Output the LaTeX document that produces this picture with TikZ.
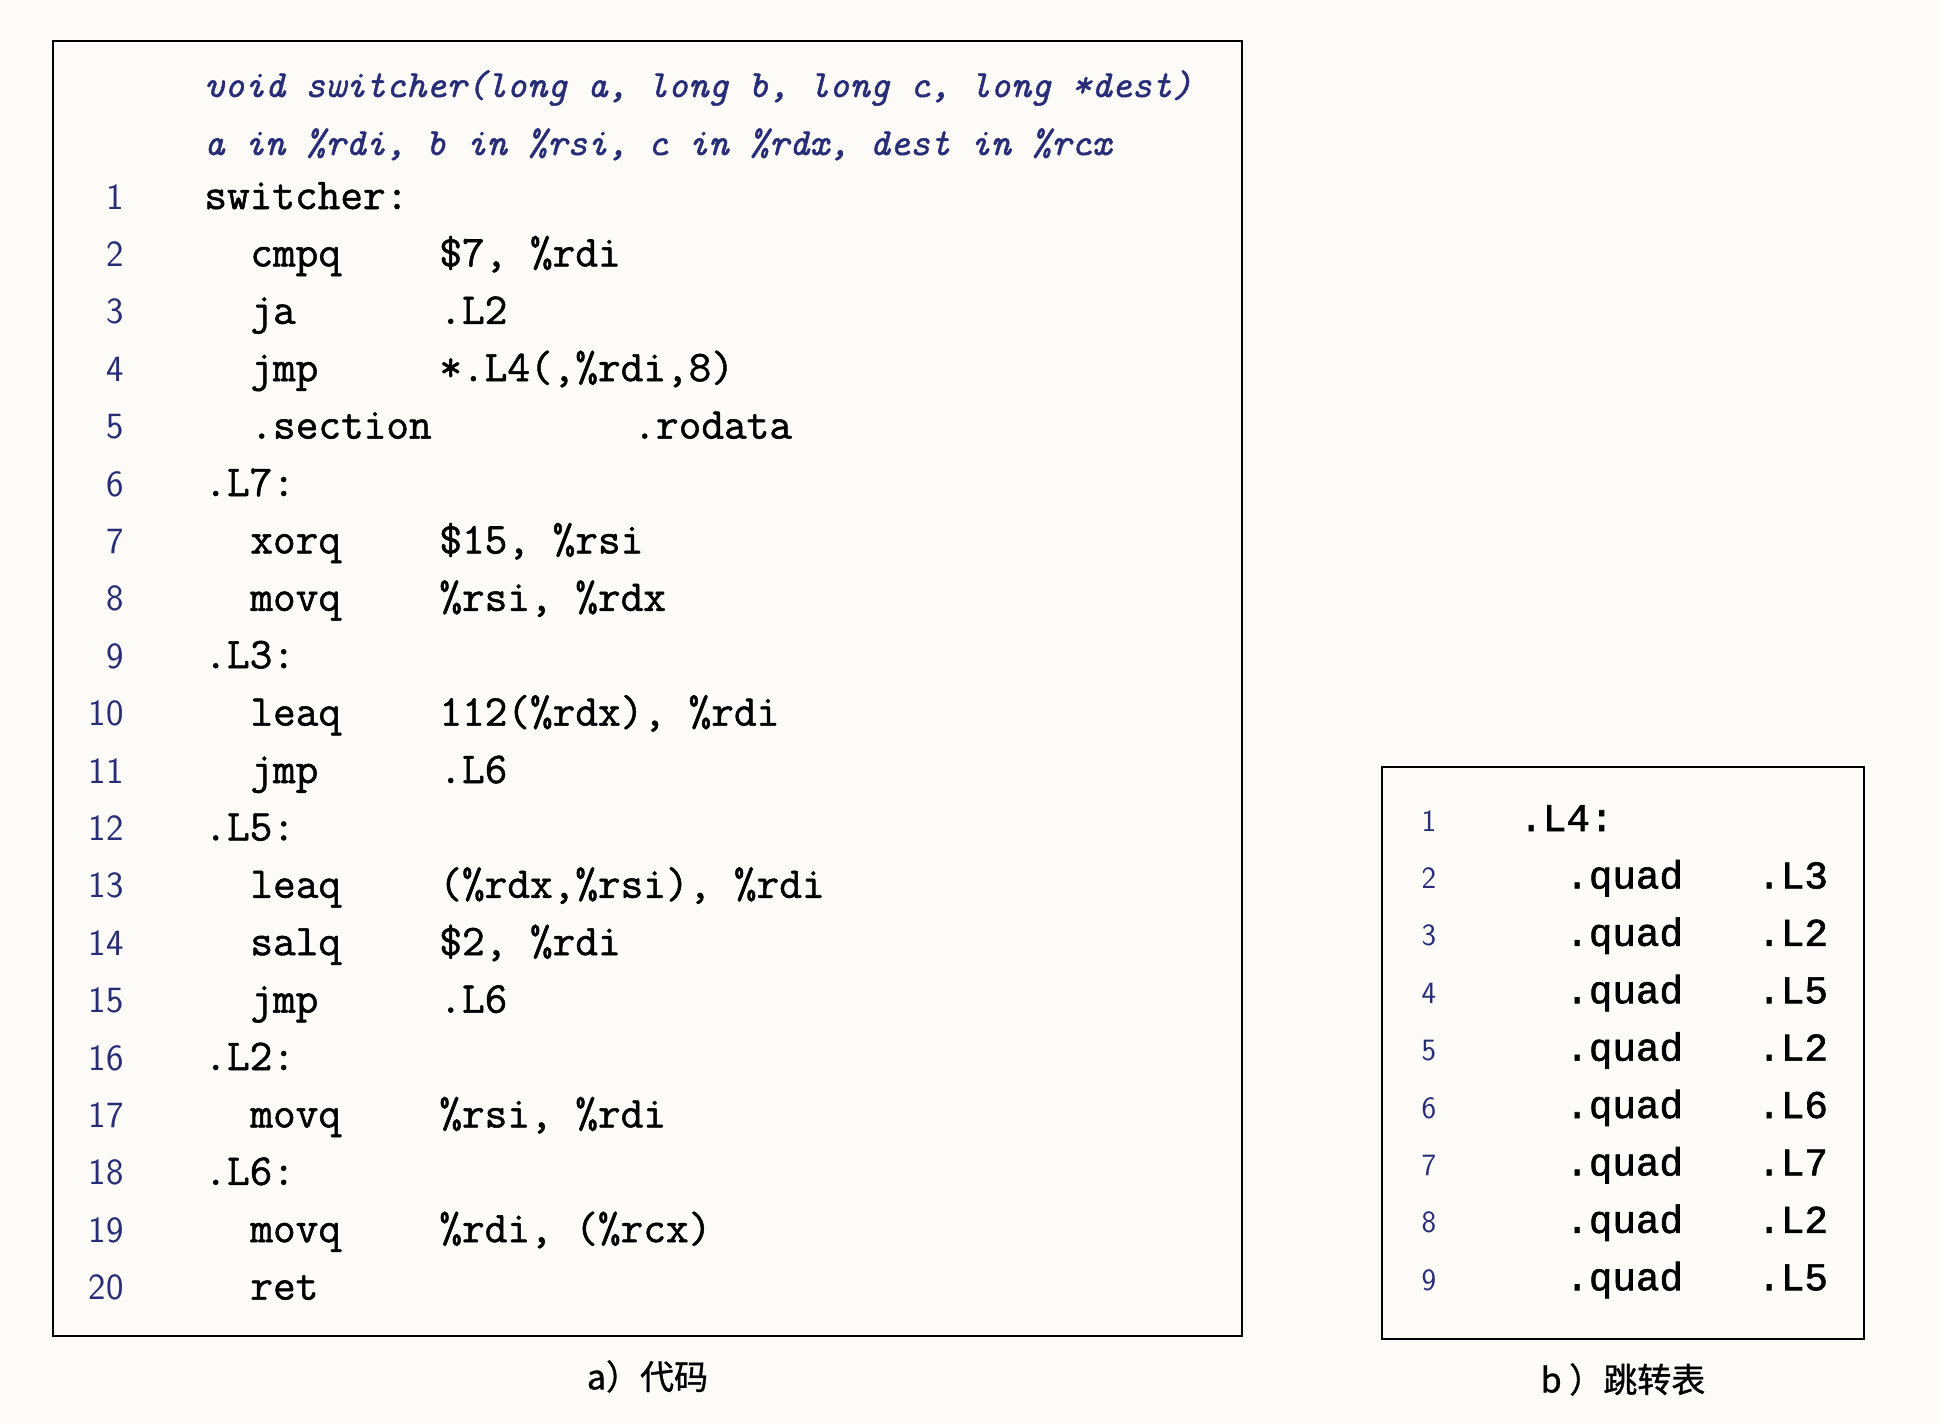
\documentclass[tikz,border=0pt]{standalone}
\usepackage{fontspec}
\setmonofont{Latin Modern Mono}[RawFeature={embolden=1.2}]
\newfontfamily\cjk{Noto Sans CJK SC}[RawFeature={embolden=1}]
\newfontfamily\courier{Liberation Mono}[RawFeature={embolden=1.6}]
\usetikzlibrary{positioning}
\definecolor{navy}{RGB}{40,45,120}
\definecolor{paper}{RGB}{252,251,247}
\tikzstyle{panel} = [draw=black, line width=1.2pt, inner sep=0pt]
\tikzstyle{lineno} = [anchor=base east, inner sep=0pt, text=navy, font=\fontsize{18.5}{18}\selectfont\sffamily]
\tikzstyle{hdr} = [anchor=base west, inner sep=0pt, text=navy, font=\fontsize{19.2}{19}\selectfont\ttfamily\itshape]
\tikzstyle{asm} = [anchor=base west, inner sep=0pt, font=\fontsize{22}{22}\selectfont\ttfamily]
\tikzstyle{tblno} = [anchor=base, inner sep=0pt, text=navy, font=\fontsize{15.5}{15}\selectfont\sffamily]
\tikzstyle{tbl} = [anchor=base west, inner sep=0pt, font=\fontsize{19.6}{20}\selectfont\courier]
\tikzstyle{caption} = [font=\fontsize{17}{17}\selectfont\cjk]

\begin{document}
\begin{tikzpicture}[x=0.5pt, y=-0.5pt]
                \fill[paper] (0,0) rectangle (1940,1424);
                \useasboundingbox (0,0) rectangle (1940,1424);

                % a) code
                \node (codebox) [panel, minimum width=594.5pt, minimum height=647.5pt] at (647.5,688.5) {};
                \node (hdr1) [hdr] at (204,97) {void switcher(long a, long b, long c, long *dest)};
                \node (hdr2) [hdr] at (204,155) {a in \%rdi, b in \%rsi, c in \%rdx, dest in \%rcx};
                \foreach \n/\lab/\ins/\op in {
                    1/switcher:/{}/{}, 2/{}/cmpq/{\$7, \%rdi}, 3/{}/ja/.L2,
                    4/{}/jmp/{*.L4(,\%rdi,8)}, 5/{}/.section/{}, 6/.L7:/{}/{},
                    7/{}/xorq/{\$15, \%rsi}, 8/{}/movq/{\%rsi, \%rdx}, 9/.L3:/{}/{},
                    10/{}/leaq/{112(\%rdx), \%rdi}, 11/{}/jmp/.L6, 12/.L5:/{}/{},
                    13/{}/leaq/{(\%rdx,\%rsi), \%rdi}, 14/{}/salq/{\$2, \%rdi},
                    15/{}/jmp/.L6, 16/.L2:/{}/{}, 17/{}/movq/{\%rsi, \%rdi},
                    18/.L6:/{}/{}, 19/{}/movq/{\%rdi, (\%rcx)}, 20/{}/ret/{}} {
                    \node (num\n) [lineno] at (124,{209+(\n-1)*57.4}) {\n};
                    \node (lab\n) [asm] at (204,{209+(\n-1)*57.4}) {\lab};
                    \node (ins\n) [asm] at (250,{209+(\n-1)*57.4}) {\ins};
                    \node (op\n) [asm] at (439,{209+(\n-1)*57.4}) {\op};
                }
                \node (rodata) [asm] at (633,{209+4*57.4}) {.rodata};
                \node (capA) [caption, below=8pt of codebox] {a）代码};

                % b) jump table
                \node (tablebox) [panel, minimum width=241pt, minimum height=286pt] at (1623,1053) {};
                \node (tnum1) [tblno] at (1429,831) {1};
                \node (tlab1) [tbl] at (1519,831) {.L4:};
                \foreach \n/\target in {2/.L3, 3/.L2, 4/.L5, 5/.L2, 6/.L6, 7/.L7, 8/.L2, 9/.L5} {
                    \node (tnum\n) [tblno] at (1429,{831+(\n-1)*57.4}) {\n};
                    \node (quad\n) [tbl] at (1565,{831+(\n-1)*57.4}) {.quad};
                    \node (tgt\n) [tbl] at (1757,{831+(\n-1)*57.4}) {\target};
                }
                \node (capB) [caption, below=8pt of tablebox] {b ）跳转表};
            \end{tikzpicture}
\end{document}
